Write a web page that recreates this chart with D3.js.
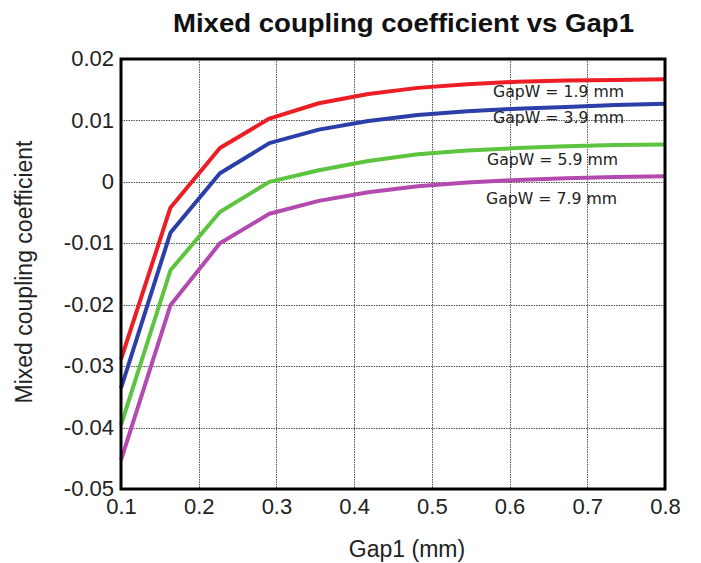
<!DOCTYPE html>
<html>
<head>
<meta charset="utf-8">
<script src="https://cdn.jsdelivr.net/npm/d3@7"></script>
<style>
  body { margin: 0; background: #fff; }
  svg { display: block; font-family: "Liberation Sans", Arial, sans-serif; }
</style>
</head>
<body>
<svg id="chart" width="701" height="563"></svg>
<script>
// ---- data ----
const gap1 = [0.1, 0.1636, 0.2273, 0.2909, 0.3545, 0.4182, 0.4818, 0.5455, 0.6091, 0.6727, 0.7364, 0.8];
const gapW19 = [-0.0289, -0.0042, 0.0055, 0.0103, 0.0128, 0.0143, 0.0153, 0.0159, 0.0163, 0.0165, 0.0166, 0.0167];
const gapW39 = [-0.0336, -0.0083, 0.0014, 0.0063, 0.0085, 0.0099, 0.0109, 0.0115, 0.0119, 0.0122, 0.0125, 0.0127];
const gapW59 = [-0.0396, -0.0144, -0.0049, 0.0000, 0.0019, 0.0034, 0.0045, 0.0051, 0.0055, 0.0058, 0.0060, 0.0061];
const gapW79 = [-0.0453, -0.0201, -0.0100, -0.0052, -0.0031, -0.0017, -0.0007, -0.0001, 0.0003, 0.0006, 0.0008, 0.0009];
const seriesNames = ["GapW = 1.9 mm", "GapW = 3.9 mm", "GapW = 5.9 mm", "GapW = 7.9 mm"];
const xTicks = [0.1, 0.2, 0.3, 0.4, 0.5, 0.6, 0.7, 0.8];
const yTicks = [0.02, 0.01, 0, -0.01, -0.02, -0.03, -0.04, -0.05];

const series = [
  { name: seriesNames[0], values: gapW19, color: "#ec1d24", lx: 493, ly: 97 },
  { name: seriesNames[1], values: gapW39, color: "#2c3ea8", lx: 493, ly: 123 },
  { name: seriesNames[2], values: gapW59, color: "#5cc43f", lx: 487, ly: 165 },
  { name: seriesNames[3], values: gapW79, color: "#b34ab0", lx: 486, ly: 204 }
];

// ---- layout ----
const svg = d3.select("#chart");
const plotL = 121, plotR = 665, plotT = 59, plotB = 489;

const x = d3.scaleLinear().domain([0.1, 0.8]).range([plotL, plotR]);
const y = d3.scaleLinear().domain([-0.05, 0.02]).range([plotB, plotT]);

// grid
const grid = svg.append("g").attr("stroke", "#555").attr("stroke-width", 1)
  .attr("stroke-dasharray", "1.5,1");
grid.selectAll(".vx")
  .data(xTicks.slice(1, -1))
  .enter().append("line")
  .attr("x1", d => Math.round(x(d)) + 0.5).attr("x2", d => Math.round(x(d)) + 0.5)
  .attr("y1", plotT).attr("y2", plotB);
grid.selectAll(".hy")
  .data(yTicks.slice(1, -1))
  .enter().append("line")
  .attr("y1", d => Math.round(y(d)) + 0.5).attr("y2", d => Math.round(y(d)) + 0.5)
  .attr("x1", plotL).attr("x2", plotR);

// lines
const line = d3.line()
  .x((d, i) => x(gap1[i]))
  .y(d => y(d));

series.forEach(s => {
  svg.append("path")
    .datum(s.values)
    .attr("fill", "none")
    .attr("stroke", s.color)
    .attr("stroke-width", 4)
    .attr("stroke-linejoin", "round")
    .attr("d", line);
});

// frame
svg.append("rect")
  .attr("x", plotL).attr("y", plotT)
  .attr("width", plotR - plotL).attr("height", plotB - plotT)
  .attr("fill", "none").attr("stroke", "#000").attr("stroke-width", 3);

// axes
const xAxis = d3.axisBottom(x).tickValues(xTicks).tickSize(0).tickPadding(9)
  .tickFormat(d3.format(".1f"));
svg.append("g")
  .attr("transform", `translate(0,${plotB})`)
  .call(xAxis)
  .call(g => g.select(".domain").remove())
  .selectAll("text")
  .attr("font-size", 22).attr("font-family", "Liberation Sans, Arial, sans-serif")
  .attr("fill", "#222");

const yAxis = d3.axisLeft(y).tickValues(yTicks).tickSize(0).tickPadding(7)
  .tickFormat(d => d === 0 ? "0" : d3.format(".2f")(d).replace("−", "-"));
svg.append("g")
  .attr("transform", `translate(${plotL},0)`)
  .call(yAxis)
  .call(g => g.select(".domain").remove())
  .selectAll("text")
  .attr("font-size", 22).attr("font-family", "Liberation Sans, Arial, sans-serif")
  .attr("dy", "0.3em")
  .attr("fill", "#222");

// series labels
svg.append("g").selectAll("text")
  .data(series)
  .enter().append("text")
  .attr("x", d => d.lx).attr("y", d => d.ly)
  .attr("font-family", "DejaVu Sans, Verdana, sans-serif")
  .attr("font-size", 15)
  .attr("fill", "#222")
  .attr("textLength", 131)
  .attr("lengthAdjust", "spacingAndGlyphs")
  .text(d => d.name);

// title and axis labels
svg.append("text")
  .attr("x", 403.5).attr("y", 32)
  .attr("text-anchor", "middle")
  .attr("font-size", 26).attr("font-weight", "bold")
  .attr("fill", "#111")
  .attr("textLength", 461)
  .attr("lengthAdjust", "spacingAndGlyphs")
  .text("Mixed coupling coefficient vs Gap1");

svg.append("text")
  .attr("x", 407).attr("y", 557)
  .attr("text-anchor", "middle")
  .attr("font-size", 23).attr("fill", "#222")
  .text("Gap1 (mm)");

svg.append("text")
  .attr("transform", "translate(32,272) rotate(-90)")
  .attr("text-anchor", "middle")
  .attr("font-size", 23).attr("fill", "#222")
  .text("Mixed coupling coefficient");
</script>
</body>
</html>
